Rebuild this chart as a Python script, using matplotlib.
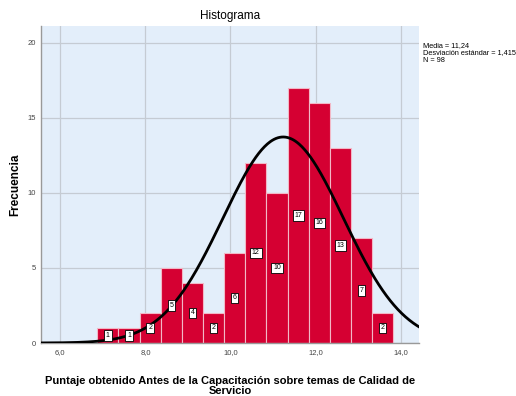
import numpy as np
import matplotlib
matplotlib.use("Agg")
import matplotlib.pyplot as plt
from matplotlib.ticker import FuncFormatter

conteos = [1, 1, 2, 5, 4, 2, 6, 12, 10, 17, 16, 13, 7, 2]
inicio_bin = 6.87
ancho_bin = 0.497
media = 11.24
desv = 1.415
n_total = 98

x_ticks = [6, 8, 10, 12, 14]
y_ticks = [0, 5, 10, 15, 20]

plt.rcParams['font.family'] = ['Liberation Sans', 'DejaVu Sans']

fig = plt.figure(figsize=(5.16, 3.96), dpi=100)
ax = fig.add_axes([41.3 / 516, 1 - 343 / 396, (419.3 - 41.3) / 516, (343 - 26) / 396])
ax.set_facecolor('#E3EEFA')

bordes = inicio_bin + ancho_bin * np.arange(len(conteos))
ax.bar(bordes, conteos, width=ancho_bin, align='edge', color='#D50032',
       edgecolor='#F2B8C6', linewidth=0.8, zorder=2)

for b, c in zip(bordes, conteos):
    ax.text(b + ancho_bin / 2, c / 2, str(c), ha='center', va='center', fontsize=5,
            bbox=dict(boxstyle='square,pad=0.25', fc='white', ec='black', lw=0.6), zorder=4)

xs = np.linspace(5.5, 14.5, 400)
ys = n_total * ancho_bin * np.exp(-0.5 * ((xs - media) / desv) ** 2) / (desv * np.sqrt(2 * np.pi))
ax.plot(xs, ys, color='black', lw=2, zorder=3)

ax.set_xlim(5.553, 14.44)
ax.set_ylim(0, 21.13)
ax.set_xticks(x_ticks)
ax.set_yticks(y_ticks)
ax.xaxis.set_major_formatter(FuncFormatter(lambda v, p: f"{v:.1f}".replace('.', ',')))
ax.yaxis.set_major_formatter(FuncFormatter(lambda v, p: f"{int(v)}"))
ax.tick_params(length=0, labelsize=5.5, labelcolor='#444444', pad=4)
ax.grid(True, color='#C5CBD3', lw=0.9, zorder=0)
ax.set_axisbelow(True)
for s in ['top', 'right']:
    ax.spines[s].set_visible(False)
for s in ['left', 'bottom']:
    ax.spines[s].set_color('#999999')
    ax.spines[s].set_linewidth(1.0)

ax.set_title('Histograma', fontsize=8.5, pad=5)
ax.set_ylabel('Frecuencia', fontsize=8.5, fontweight='bold', labelpad=4)
ax.set_xlabel('Puntaje obtenido Antes de la Capacitación sobre temas de Calidad de\nServicio',
              fontsize=8, fontweight='bold', labelpad=15, linespacing=0.95)

fig.text(423 / 516, 1 - 42 / 396,
         'Media = 11,24\nDesviación estándar = 1,415\nN = 98',
         fontsize=5.3, va='top', ha='left', linespacing=1.05)

fig.savefig('out.png', dpi=100)
